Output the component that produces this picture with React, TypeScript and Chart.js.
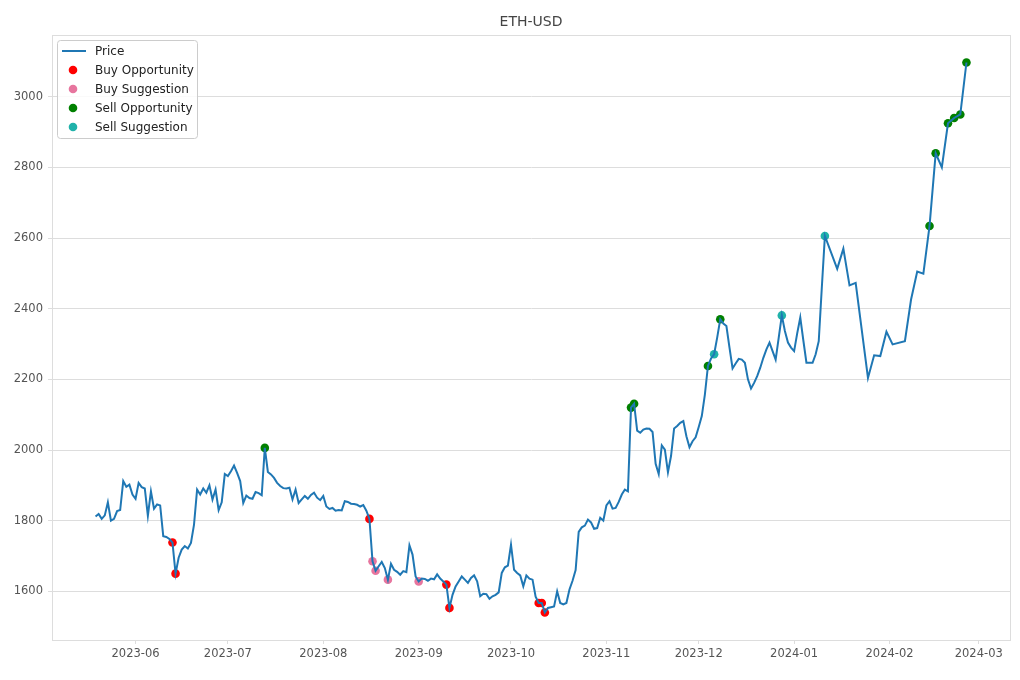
import React, { useEffect, useRef } from "react";
import { Chart, registerables } from "chart.js";

Chart.register(...registerables);

// ---- Data ----
const dates: string[] = [
  // May 2023
  "2023-05-19", "2023-05-20", "2023-05-21", "2023-05-22", "2023-05-23", "2023-05-24", "2023-05-25",
  "2023-05-26", "2023-05-27", "2023-05-28", "2023-05-29", "2023-05-30", "2023-05-31",
  // June 2023
  "2023-06-01", "2023-06-02", "2023-06-03", "2023-06-04", "2023-06-05", "2023-06-06", "2023-06-07",
  "2023-06-08", "2023-06-09", "2023-06-10", "2023-06-11", "2023-06-12", "2023-06-13", "2023-06-14",
  "2023-06-15", "2023-06-16", "2023-06-17", "2023-06-18", "2023-06-19", "2023-06-20", "2023-06-21",
  "2023-06-22", "2023-06-23", "2023-06-24", "2023-06-25", "2023-06-26", "2023-06-27", "2023-06-28",
  "2023-06-29", "2023-06-30",
  // July 2023
  "2023-07-01", "2023-07-02", "2023-07-03", "2023-07-04", "2023-07-05", "2023-07-06", "2023-07-07",
  "2023-07-08", "2023-07-09", "2023-07-10", "2023-07-11", "2023-07-12", "2023-07-13", "2023-07-14",
  "2023-07-15", "2023-07-16", "2023-07-17", "2023-07-18", "2023-07-19", "2023-07-20", "2023-07-21",
  "2023-07-22", "2023-07-23", "2023-07-24", "2023-07-25", "2023-07-26", "2023-07-27", "2023-07-28",
  "2023-07-29", "2023-07-30", "2023-07-31",
  // August 2023
  "2023-08-01", "2023-08-02", "2023-08-03", "2023-08-04", "2023-08-05", "2023-08-06", "2023-08-07",
  "2023-08-08", "2023-08-09", "2023-08-10", "2023-08-11", "2023-08-12", "2023-08-13", "2023-08-14",
  "2023-08-15", "2023-08-16", "2023-08-17", "2023-08-18", "2023-08-19", "2023-08-20", "2023-08-21",
  "2023-08-22", "2023-08-23", "2023-08-24", "2023-08-25", "2023-08-26", "2023-08-27", "2023-08-28",
  "2023-08-29", "2023-08-30", "2023-08-31",
  // September 2023
  "2023-09-01", "2023-09-02", "2023-09-03", "2023-09-04", "2023-09-05", "2023-09-06", "2023-09-07",
  "2023-09-08", "2023-09-09", "2023-09-10", "2023-09-11", "2023-09-12", "2023-09-13", "2023-09-14",
  "2023-09-15", "2023-09-16", "2023-09-17", "2023-09-18", "2023-09-19", "2023-09-20", "2023-09-21",
  "2023-09-22", "2023-09-23", "2023-09-24", "2023-09-25", "2023-09-26", "2023-09-27", "2023-09-28",
  "2023-09-29", "2023-09-30",
  // October 2023
  "2023-10-01", "2023-10-02", "2023-10-03", "2023-10-04", "2023-10-05", "2023-10-06", "2023-10-07",
  "2023-10-08", "2023-10-09", "2023-10-10", "2023-10-11", "2023-10-12", "2023-10-13", "2023-10-14",
  "2023-10-15", "2023-10-16", "2023-10-17", "2023-10-18", "2023-10-19", "2023-10-20", "2023-10-21",
  "2023-10-22", "2023-10-23", "2023-10-24", "2023-10-25", "2023-10-26", "2023-10-27", "2023-10-28",
  "2023-10-29", "2023-10-30", "2023-10-31",
  // November 2023
  "2023-11-01", "2023-11-02", "2023-11-03", "2023-11-04", "2023-11-05", "2023-11-06", "2023-11-07",
  "2023-11-08", "2023-11-09", "2023-11-10", "2023-11-11", "2023-11-12", "2023-11-13", "2023-11-14",
  "2023-11-15", "2023-11-16", "2023-11-17", "2023-11-18", "2023-11-19", "2023-11-20", "2023-11-21",
  "2023-11-22", "2023-11-23", "2023-11-24", "2023-11-25", "2023-11-26", "2023-11-27", "2023-11-28",
  "2023-11-29", "2023-11-30",
  // December 2023
  "2023-12-01", "2023-12-02", "2023-12-03", "2023-12-04", "2023-12-05", "2023-12-06", "2023-12-07",
  "2023-12-08", "2023-12-09", "2023-12-10", "2023-12-11", "2023-12-12", "2023-12-13", "2023-12-14",
  "2023-12-15", "2023-12-16", "2023-12-17", "2023-12-18", "2023-12-19", "2023-12-20", "2023-12-21",
  "2023-12-22", "2023-12-23", "2023-12-24", "2023-12-25", "2023-12-26", "2023-12-27", "2023-12-28",
  "2023-12-29", "2023-12-30", "2023-12-31",
  // January 2024
  "2024-01-01", "2024-01-02", "2024-01-03", "2024-01-04", "2024-01-05", "2024-01-06", "2024-01-07",
  "2024-01-08", "2024-01-09", "2024-01-10", "2024-01-11", "2024-01-15", "2024-01-17", "2024-01-19",
  "2024-01-21", "2024-01-25", "2024-01-27", "2024-01-29", "2024-01-31",
  // February 2024
  "2024-02-02", "2024-02-06", "2024-02-08", "2024-02-10", "2024-02-12", "2024-02-14", "2024-02-16",
  "2024-02-18", "2024-02-20", "2024-02-22", "2024-02-24", "2024-02-26",
];

const prices: number[] = [
  // May 2023
  1812, 1819, 1805, 1815, 1852, 1800, 1805, 1827, 1830, 1912, 1896, 1902, 1874,
  // June 2023
  1862, 1907, 1895, 1891, 1814, 1883, 1834, 1846, 1843, 1756, 1754, 1748, 1738, 1650, 1695,
  1718, 1728, 1721, 1737, 1789, 1888, 1874, 1891, 1879, 1900, 1860, 1888, 1830, 1852, 1932,
  // July 2023
  1926, 1940, 1956, 1935, 1912, 1850, 1871, 1864, 1862, 1881, 1878, 1872, 2006, 1938, 1931,
  1921, 1907, 1898, 1892, 1891, 1893, 1860, 1888, 1850, 1860, 1870, 1862, 1873, 1879, 1865, 1858,
  // August 2023
  1870, 1840, 1833, 1836, 1828, 1830, 1829, 1855, 1853, 1848, 1847, 1845, 1840, 1844, 1828,
  1805, 1685, 1658, 1671, 1683, 1666, 1633, 1678, 1661, 1655, 1647, 1657, 1654, 1730, 1704, 1642,
  // September 2023
  1628, 1636, 1635, 1630, 1636, 1634, 1648, 1636, 1628, 1619, 1553, 1590, 1614, 1628, 1642,
  1633, 1624, 1638, 1645, 1628, 1586, 1593, 1592, 1579, 1586, 1590, 1597, 1652, 1668, 1673,
  // October 2023
  1732, 1661, 1652, 1645, 1614, 1645, 1636, 1633, 1585, 1567, 1567, 1540, 1553, 1555, 1557,
  1600, 1567, 1563, 1567, 1605, 1630, 1660, 1768, 1781, 1786, 1803, 1795, 1777, 1779, 1808, 1800,
  // November 2023
  1843, 1855, 1834, 1836, 1853, 1874, 1888, 1883, 2120, 2131, 2055, 2049, 2058, 2061, 2060,
  2051, 1961, 1932, 2013, 2001, 1937, 1983, 2061, 2068, 2077, 2082, 2039, 2008, 2025, 2036,
  // December 2023
  2065, 2096, 2157, 2238, 2259, 2271, 2318, 2370, 2358, 2351, 2290, 2231, 2245, 2258, 2256,
  2247, 2200, 2174, 2190, 2209, 2233, 2261, 2285, 2304, 2280, 2256, 2318, 2381, 2337, 2304, 2290,
  // January 2024
  2280, 2330, 2375, 2310, 2247, 2247, 2247, 2271, 2308, 2460, 2606, 2513, 2570, 2466,
  2473, 2204, 2268, 2266, 2335,
  // February 2024
  2299, 2308, 2426, 2505, 2499, 2634, 2840, 2800, 2925, 2940, 2950, 3097,
];

const buyOpportunityDates: string[] = [
  "2023-06-13", "2023-06-14", "2023-08-16", "2023-09-10", "2023-09-11",
  "2023-10-10", "2023-10-11", "2023-10-12",
];
const buySuggestionDates: string[] = ["2023-08-17", "2023-08-18", "2023-08-22", "2023-09-01"];
const sellOpportunityDates: string[] = [
  "2023-07-13", "2023-11-09", "2023-11-10", "2023-12-04", "2023-12-08",
  "2024-02-14", "2024-02-16", "2024-02-20", "2024-02-22", "2024-02-24", "2024-02-26",
];
const sellSuggestionDates: string[] = ["2023-12-06", "2023-12-28", "2024-01-11"];

const monthTicks: string[] = [
  "2023-06-01", "2023-07-01", "2023-08-01", "2023-09-01", "2023-10-01",
  "2023-11-01", "2023-12-01", "2024-01-01", "2024-02-01", "2024-03-01",
];
const priceTicks: number[] = [1600, 1800, 2000, 2200, 2400, 2600, 2800, 3000];

const chartTitle = "ETH-USD";

// ---- helpers ----
const DAY_MS = 86400000;
const toDay = (s: string) => Date.parse(s) / DAY_MS;
const priceOn = (s: string) => prices[dates.indexOf(s)];
const fmtMonth = (d: number) => {
  const dt = new Date(Math.round(d) * DAY_MS);
  const m = dt.getUTCMonth() + 1;
  return `${dt.getUTCFullYear()}-${m < 10 ? "0" + m : m}`;
};

const FONT = "'DejaVu Sans', 'Liberation Sans', sans-serif";

const legendItems = [
  { label: "Price", kind: "line", color: "#1f77b4" },
  { label: "Buy Opportunity", kind: "dot", color: "#ff0000" },
  { label: "Buy Suggestion", kind: "dot", color: "#e7759e" },
  { label: "Sell Opportunity", kind: "dot", color: "#008000" },
  { label: "Sell Suggestion", kind: "dot", color: "#20b2aa" },
];

export default function App() {
  const ref = useRef<HTMLCanvasElement | null>(null);

  useEffect(() => {
    const canvas = ref.current;
    if (!canvas) return;

    const xs = dates.map(toDay);
    const x0 = xs[0];
    const x1 = xs[xs.length - 1];
    const xPad = (x1 - x0) * 0.05;
    const pMin = Math.min(...prices);
    const pMax = Math.max(...prices);
    const yPad = (pMax - pMin) * 0.05;

    const pricePoints = dates.map((d, i) => ({ x: xs[i], y: prices[i] }));
    const sig = (arr: string[]) => arr.map((d) => ({ x: toDay(d), y: priceOn(d) }));

    const framePlugin = {
      id: "frame",
      beforeDatasetsDraw(chart: any) {
        const { ctx, chartArea } = chart;
        ctx.save();
        ctx.strokeStyle = "#dddddd";
        ctx.lineWidth = 1;
        ctx.strokeRect(
          Math.round(chartArea.left) + 0.5,
          Math.round(chartArea.top) + 0.5,
          Math.round(chartArea.right - chartArea.left),
          Math.round(chartArea.bottom - chartArea.top)
        );
        ctx.restore();
      },
      afterDraw(chart: any) {
        const { ctx, chartArea } = chart;
        ctx.save();
        // title
        ctx.fillStyle = "#444444";
        ctx.font = `14px ${FONT}`;
        ctx.textAlign = "center";
        ctx.textBaseline = "middle";
        ctx.fillText(chartTitle, (chartArea.left + chartArea.right) / 2, 22.5);

        // legend box
        const bx = 57.5, by = 40.5, bw = 140, bh = 98, r = 3;
        ctx.beginPath();
        ctx.moveTo(bx + r, by);
        ctx.lineTo(bx + bw - r, by);
        ctx.quadraticCurveTo(bx + bw, by, bx + bw, by + r);
        ctx.lineTo(bx + bw, by + bh - r);
        ctx.quadraticCurveTo(bx + bw, by + bh, bx + bw - r, by + bh);
        ctx.lineTo(bx + r, by + bh);
        ctx.quadraticCurveTo(bx, by + bh, bx, by + bh - r);
        ctx.lineTo(bx, by + r);
        ctx.quadraticCurveTo(bx, by, bx + r, by);
        ctx.closePath();
        ctx.fillStyle = "rgba(255,255,255,0.85)";
        ctx.fill();
        ctx.strokeStyle = "#cccccc";
        ctx.lineWidth = 1;
        ctx.stroke();

        ctx.font = `12px ${FONT}`;
        ctx.textAlign = "left";
        ctx.textBaseline = "middle";
        legendItems.forEach((it, i) => {
          const cy = 51 + i * 19;
          if (it.kind === "line") {
            ctx.strokeStyle = it.color;
            ctx.lineWidth = 2;
            ctx.beginPath();
            ctx.moveTo(62, cy);
            ctx.lineTo(86, cy);
            ctx.stroke();
          } else {
            ctx.fillStyle = it.color;
            ctx.beginPath();
            ctx.arc(73, cy, 4.3, 0, Math.PI * 2);
            ctx.fill();
          }
          ctx.fillStyle = "#222222";
          ctx.fillText(it.label, 95, cy + 0.5);
        });
        ctx.restore();
      },
    };

    const chart = new Chart(canvas, {
      type: "line",
      data: {
        datasets: [
          {
            type: "line",
            label: "Price",
            data: pricePoints,
            borderColor: "#1f77b4",
            backgroundColor: "#1f77b4",
            borderWidth: 2,
            pointRadius: 0,
            tension: 0,
            fill: false,
          },
          {
            type: "scatter",
            label: "Buy Opportunity",
            data: sig(buyOpportunityDates),
            backgroundColor: "#ff0000",
            borderWidth: 0,
            pointRadius: 4.3,
          },
          {
            type: "scatter",
            label: "Buy Suggestion",
            data: sig(buySuggestionDates),
            backgroundColor: "#e7759e",
            borderWidth: 0,
            pointRadius: 4.3,
          },
          {
            type: "scatter",
            label: "Sell Opportunity",
            data: sig(sellOpportunityDates),
            backgroundColor: "#008000",
            borderWidth: 0,
            pointRadius: 4.3,
          },
          {
            type: "scatter",
            label: "Sell Suggestion",
            data: sig(sellSuggestionDates),
            backgroundColor: "#20b2aa",
            borderWidth: 0,
            pointRadius: 4.3,
          },
        ] as any,
      },
      options: {
        responsive: false,
        maintainAspectRatio: false,
        animation: false,
        devicePixelRatio: 1,
        layout: { padding: { top: 35, right: 10, left: 0, bottom: 0 } },
        plugins: {
          legend: { display: false },
          title: { display: false },
          tooltip: { enabled: false },
        },
        scales: {
          x: {
            type: "linear",
            min: x0 - xPad,
            max: x1 + xPad,
            afterBuildTicks: (axis: any) => {
              axis.ticks = monthTicks.map((m) => ({ value: toDay(m) }));
            },
            afterFit: (axis: any) => {
              axis.height = 40;
            },
            ticks: {
              autoSkip: false,
              maxRotation: 0,
              padding: 3,
              color: "#555555",
              font: { family: FONT, size: 11.5 },
              callback: (v: any) => fmtMonth(Number(v)),
            },
            grid: {
              drawOnChartArea: false,
              drawTicks: true,
              tickLength: 4,
              color: "#dddddd",
            },
            border: { display: true, color: "#dddddd" },
          },
          y: {
            type: "linear",
            min: pMin - yPad,
            max: pMax + yPad,
            afterBuildTicks: (axis: any) => {
              axis.ticks = priceTicks.map((v) => ({ value: v }));
            },
            afterFit: (axis: any) => {
              axis.width = 52;
            },
            ticks: {
              padding: 5,
              color: "#555555",
              font: { family: FONT, size: 11.5 },
              callback: (v: any) => String(v),
            },
            grid: {
              color: "#dddddd",
              lineWidth: 1,
              drawTicks: true,
              tickLength: 4,
            },
            border: { display: true, color: "#dddddd" },
          },
        },
      } as any,
      plugins: [framePlugin],
    });

    return () => chart.destroy();
  }, []);

  return (
    <div style={{ position: "absolute", left: 0, top: 0, width: 1020, height: 680, background: "#ffffff" }}>
      <canvas ref={ref} width={1020} height={680} style={{ display: "block", width: 1020, height: 680 }} />
    </div>
  );
}
